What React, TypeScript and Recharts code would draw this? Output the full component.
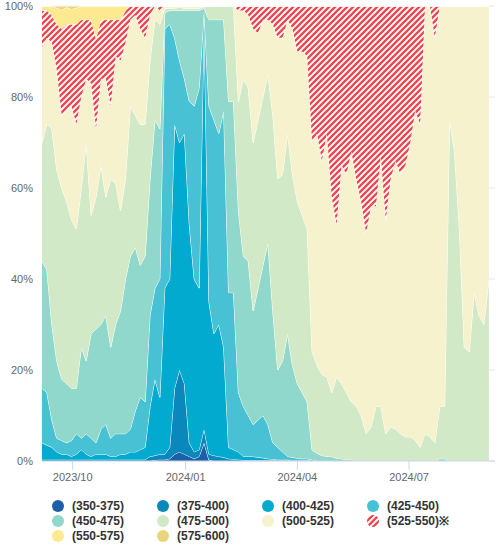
import React from 'react';
import { AreaChart, Area, XAxis, YAxis, CartesianGrid } from 'recharts';

// one sample every 4 days
const dates = [
  '2023-09-06', '2023-09-10', '2023-09-14', '2023-09-18', '2023-09-22', '2023-09-26', '2023-09-30', '2023-10-04', '2023-10-08', '2023-10-12',
  '2023-10-16', '2023-10-20', '2023-10-24', '2023-10-28', '2023-11-01', '2023-11-05', '2023-11-09', '2023-11-13', '2023-11-17', '2023-11-21',
  '2023-11-25', '2023-11-29', '2023-12-03', '2023-12-07', '2023-12-11', '2023-12-15', '2023-12-19', '2023-12-23', '2023-12-27', '2023-12-31',
  '2024-01-04', '2024-01-08', '2024-01-12', '2024-01-16', '2024-01-20', '2024-01-24', '2024-01-28', '2024-02-01', '2024-02-05', '2024-02-09',
  '2024-02-13', '2024-02-17', '2024-02-21', '2024-02-25', '2024-02-29', '2024-03-04', '2024-03-08', '2024-03-12', '2024-03-16', '2024-03-20',
  '2024-03-24', '2024-03-28', '2024-04-01', '2024-04-05', '2024-04-09', '2024-04-13', '2024-04-17', '2024-04-21', '2024-04-25', '2024-04-29',
  '2024-05-03', '2024-05-07', '2024-05-11', '2024-05-15', '2024-05-19', '2024-05-23', '2024-05-27', '2024-05-31', '2024-06-04', '2024-06-08',
  '2024-06-12', '2024-06-16', '2024-06-20', '2024-06-24', '2024-06-28', '2024-07-02', '2024-07-06', '2024-07-10', '2024-07-14', '2024-07-18',
  '2024-07-22', '2024-07-26', '2024-07-30', '2024-08-03', '2024-08-07', '2024-08-11', '2024-08-15', '2024-08-19', '2024-08-23', '2024-08-27',
  '2024-08-31', '2024-09-04',
];

// cumulative share (%) up to the top of each band
const cumTo375 = [
  0, 0, 0, 0, 0, 0, 0, 0, 0, 0,
  0, 0, 0, 0, 0, 0, 0, 0, 0, 0,
  0, 0, 0, 0.2, 0.3, 0.3, 0.5, 1.5, 2, 1.5,
  1, 0.5, 1, 4, 0.2, 0, 0, 0, 0, 0,
  0, 0, 0, 0, 0, 0, 0, 0, 0, 0,
  0, 0, 0, 0, 0, 0, 0, 0, 0, 0,
  0, 0, 0, 0, 0, 0, 0, 0, 0, 0,
  0, 0, 0, 0, 0, 0, 0, 0, 0, 0,
  0, 0, 0, 0, 0, 0, 0, 0, 0, 0,
  0, 0,
];
const cumTo400 = [
  0.3, 0.3, 0.3, 0.3, 0.3, 0.3, 0.3, 0.3, 0.3, 0.3,
  0.3, 0.3, 0.3, 0.3, 0.3, 0.3, 0.3, 0.3, 0.3, 0.3,
  0.3, 0.3, 1, 1.2, 1.5, 1.5, 3, 16, 20, 17,
  4, 2, 2.5, 7, 1.5, 1.2, 1, 0.8, 0.5, 0.4,
  0.3, 0.2, 0.2, 0.2, 0.2, 0.2, 0.2, 0.2, 0.2, 0.2,
  0.2, 0, 0, 0, 0, 0, 0, 0, 0, 0,
  0, 0, 0, 0, 0, 0, 0, 0, 0, 0,
  0, 0, 0, 0, 0, 0, 0, 0, 0, 0,
  0, 0, 0, 0, 0, 0, 0, 0, 0, 0,
  0, 0,
];
const cumTo425 = [
  4, 3.5, 3, 2, 1.5, 1.5, 1, 1.5, 2.5, 1.5,
  1, 1.5, 1.5, 1.5, 1, 1, 1.5, 1.5, 2, 2,
  2.5, 3, 12, 18, 14, 38, 40, 74, 70, 72,
  52, 40, 38, 97, 35, 28, 30, 25, 3, 2.5,
  2, 1, 1, 1, 0.8, 0.7, 0.5, 0.4, 0.3, 0.3,
  0.3, 0.2, 0.2, 0.2, 0.2, 0, 0, 0, 0, 0,
  0, 0, 0, 0, 0, 0, 0, 0, 0, 0,
  0, 0, 0, 0, 0, 0, 0, 0, 0, 0,
  0, 0, 0, 0, 0, 0, 0, 0, 0, 0,
  0, 0,
];
const cumTo450 = [
  16, 15, 9, 5, 4.5, 4, 4.5, 6, 5, 6,
  5, 4, 7, 8, 5, 6, 6, 6, 7, 11,
  14, 13, 32, 38, 40, 95, 96, 93, 88, 84,
  79, 78, 82, 99, 78, 75, 72, 77, 37, 37,
  15, 12, 10, 8, 9, 10, 8, 4, 3, 2,
  1, 0.8, 0.6, 0.5, 0.5, 0.3, 0, 0, 0, 0,
  0, 0, 0, 0, 0, 0, 0, 0, 0, 0,
  0, 0, 0, 0, 0, 0, 0, 0, 0, 0,
  0, 0, 0, 0, 0, 0, 0, 0, 0, 0,
  0, 0,
];
const cumTo475 = [
  44, 42, 30, 22, 18, 17, 16, 16, 25, 22,
  28, 29, 30, 32, 25, 30, 33, 40, 45, 47,
  43, 45, 62, 75, 73, 98.5, 99, 99, 99, 99,
  99, 99, 99, 99.5, 97, 97, 97, 97, 79, 79,
  55, 45, 44, 33, 38, 43, 48, 33, 20, 22,
  28, 21, 17, 15, 13, 2.4, 1.7, 1.2, 1, 1,
  0.6, 0.5, 0.3, 0.3, 0, 0, 0, 0, 0, 0,
  0, 0, 0, 0, 0, 0, 0, 0, 0, 0,
  0, 0.5, 0.5, 0, 0, 0, 0, 0, 0, 0,
  0, 0,
];
const cumTo500 = [
  70, 74, 73, 64, 60, 57, 53, 51, 60, 70,
  54, 58, 65, 58, 62, 61, 55, 62, 78, 76,
  74, 74, 88, 97, 96, 99.5, 99.5, 99.5, 99.7, 99.5,
  99.5, 99.5, 99.5, 99.8, 100, 100, 100, 100, 100, 100,
  79, 84, 82, 70, 75, 80, 85, 76, 62, 63,
  72, 63, 57, 54, 51, 24, 21, 19, 18.5, 15,
  18.5, 17, 15, 13, 12, 10, 6, 7.5, 12, 12,
  6, 7.5, 7, 6, 5.3, 5.3, 4.6, 3, 6, 5.3,
  4, 12, 12, 75, 68, 51, 25, 24, 37, 32,
  30, 40,
];
const cumTo525 = [
  91, 93, 92, 86, 76, 77, 78, 74, 80, 84,
  83, 73, 84, 84, 78, 89, 88, 92, 97, 98,
  95, 93, 98, 100, 99, 100, 100, 100, 100, 100,
  100, 100, 100, 100, 100, 100, 100, 100, 100, 100,
  99, 99, 98, 95, 94, 97, 97, 96, 93, 93,
  97, 95, 90, 90, 89, 70, 72, 66, 72, 58,
  52, 65, 63, 68, 62, 57, 50, 56, 56, 67,
  53, 62, 66, 63, 65, 70, 77, 74, 100, 100,
  93, 100, 100, 100, 100, 100, 100, 100, 100, 100,
  100, 100,
];
const cumTo550 = [
  99, 99, 98, 96, 95, 96, 96, 96, 97, 97,
  97, 93, 97, 97, 97, 97, 97, 99, 100, 100,
  100, 100, 100, 100, 100, 100, 100, 100, 100, 100,
  100, 100, 100, 100, 100, 100, 100, 100, 100, 100,
  100, 100, 100, 100, 100, 100, 100, 100, 100, 100,
  100, 100, 100, 100, 100, 100, 100, 100, 100, 100,
  100, 100, 100, 100, 100, 100, 100, 100, 100, 100,
  100, 100, 100, 100, 100, 100, 100, 100, 100, 100,
  100, 100, 100, 100, 100, 100, 100, 100, 100, 100,
  100, 100,
];
const cumTo575 = [
  100, 100, 100, 99.6, 99.2, 99.7, 99.3, 99.6, 100, 100,
  100, 100, 100, 100, 100, 100, 100, 100, 100, 100,
  100, 100, 100, 100, 100, 100, 100, 100, 100, 100,
  100, 100, 100, 100, 100, 100, 100, 100, 100, 100,
  100, 100, 100, 100, 100, 100, 100, 100, 100, 100,
  100, 100, 100, 100, 100, 100, 100, 100, 100, 100,
  100, 100, 100, 100, 100, 100, 100, 100, 100, 100,
  100, 100, 100, 100, 100, 100, 100, 100, 100, 100,
  100, 100, 100, 100, 100, 100, 100, 100, 100, 100,
  100, 100,
];

const bandNames = ['(350-375)', '(375-400)', '(400-425)', '(425-450)', '(450-475)', '(475-500)', '(500-525)', '(525-550)※', '(550-575)', '(575-600)'];
const bandColors = ['#1d5fa7', '#0a87bb', '#02aacf', '#47c1d3', '#8fd8cb', '#d1e9c6', '#f6f2cd', 'url(#redHatch)', '#fde98f', '#e8d57c'];
const yTicks = [0, 0.2, 0.4, 0.6, 0.8, 1];
const xTicks = ['2023-10-01', '2024-01-01', '2024-04-01', '2024-07-01'];

const tops = [cumTo375, cumTo400, cumTo425, cumTo450, cumTo475, cumTo500, cumTo525, cumTo550, cumTo575];

const data = dates.map((d, i) => {
  const row: Record<string, number> = { t: Date.parse(d) };
  let prev = 0;
  bandNames.forEach((_, k) => {
    const top = k < tops.length ? tops[k][i] : 100;
    row['s' + k] = Math.max(0, top - prev);
    prev = top;
  });
  return row;
});

const fmtMonth = (v: number) => {
  const d = new Date(v);
  return `${d.getUTCFullYear()}/${String(d.getUTCMonth() + 1).padStart(2, '0')}`;
};

const HATCH = '#f0444f';

// diagonal red stripes on white, used for (525-550)
function Hatch({ id }: { id: string }) {
  return (
    <pattern id={id} patternUnits="userSpaceOnUse" width="6" height="6">
      <rect width="6" height="6" fill="#fff" />
      <path d="M0 6 L6 0 M-1.5 1.5 L1.5 -1.5 M4.5 7.5 L7.5 4.5" stroke={HATCH} strokeWidth="2.3" />
    </pattern>
  );
}

function Legend() {
  return (
    <div style={{ position: 'absolute', left: 52, top: 498, display: 'grid', gridTemplateColumns: 'repeat(4, 105px)' }}>
      {bandNames.map((name, k) => (
        <div key={name} style={{ display: 'flex', alignItems: 'center', height: 15 }}>
          <svg width={12} height={12} style={{ marginRight: 8, flex: 'none' }}>
            <defs>
              <Hatch id="legendHatch" />
            </defs>
            <circle cx={6} cy={6} r={6} fill={k === 7 ? 'url(#legendHatch)' : bandColors[k]} />
          </svg>
          <span style={{ fontSize: 12, fontWeight: 'bold', color: '#333' }}>{name}</span>
        </div>
      ))}
    </div>
  );
}

export default function App() {
  return (
    <div
      style={{
        position: 'absolute',
        left: 0,
        top: 0,
        width: 500,
        height: 554,
        background: '#fff',
        fontFamily: '"Liberation Sans", Arial, Helvetica, sans-serif',
      }}
    >
      <AreaChart
        width={500}
        height={490}
        data={data}
        stackOffset="expand"
        margin={{ top: 6, right: 5, bottom: 0, left: 0 }}
      >
        <defs>
          <Hatch id="redHatch" />
        </defs>
        <CartesianGrid vertical={false} stroke="#e6e6e6" />
        <XAxis
          dataKey="t"
          type="number"
          domain={[Date.parse('2023-09-06'), Date.parse('2024-09-09')]}
          ticks={xTicks.map((d) => Date.parse(d))}
          tickFormatter={fmtMonth}
          height={29}
          tickSize={9}
          tickMargin={3}
          stroke="#ccd6eb"
          tick={{ fill: '#666', fontSize: 11 }}
        />
        <YAxis
          width={42}
          domain={[0, 1]}
          ticks={yTicks}
          tickFormatter={(v: number) => `${Math.round(v * 100)}%`}
          axisLine={false}
          tickLine={false}
          tickMargin={3}
          tick={{ fill: '#666', fontSize: 11 }}
        />
        {bandNames.map((name, k) => (
          <Area
            key={name}
            type="linear"
            dataKey={'s' + k}
            name={name}
            stackId="share"
            fill={bandColors[k]}
            fillOpacity={1}
            stroke="#fff"
            strokeWidth={1}
            dot={false}
            activeDot={false}
            isAnimationActive={false}
          />
        ))}
      </AreaChart>
      <Legend />
    </div>
  );
}
